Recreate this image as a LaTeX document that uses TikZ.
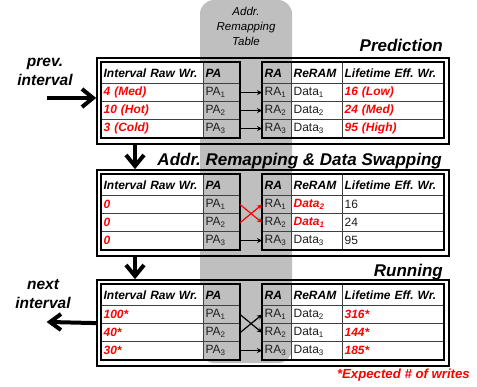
\documentclass[tikz,border=0pt]{standalone}
\usepackage{fontspec}
\setmainfont{Liberation Sans}
\usetikzlibrary{arrows.meta,calc}
\frenchspacing

\definecolor{colgray}{RGB}{191,191,191}
\definecolor{tabline}{RGB}{64,64,64}
\definecolor{hotred}{RGB}{255,0,0}
\definecolor{ink}{RGB}{30,30,30}

\newcommand\cellfont{\fontsize{12}{13}\selectfont}
\newcommand\bi{\bfseries\itshape}

\tikzset{
  cell/.style={draw=tabline, line width=1.2pt, anchor=north west, inner xsep=2pt,
    inner ysep=0pt, align=left, font=\cellfont, text=ink},
  hot/.style={text=hotred, font=\cellfont\bi},
  head/.style={font=\cellfont\bi, text=black},
  panelbox/.style={draw=black, line width=2.2pt, anchor=north west, inner sep=0pt,
    minimum width=352pt, minimum height=86pt},
  tableframe/.style={draw=black, line width=1.5pt},
  shaft/.style={line width=4pt},
  chevron/.style={line width=4pt, line join=miter},
  maparrow/.style={line width=1.2pt, -{Stealth[length=5pt,width=5pt]}},
  title/.style={font=\fontsize{17}{17}\selectfont\bi, inner sep=0pt, anchor=base east},
  sidelabel/.style={font=\fontsize{15.5}{15.5}\selectfont\bi, inner sep=0pt, anchor=base},
}

% header row of one panel: #1 prefix, #2 top y
\newcommand\panelhead[2]{%
  \node[cell, head, fill=white, text width=98pt, minimum height=21pt] (#1int0) at (101,#2) {Interval Raw Wr.};
  \node[cell, head, text width=32pt, minimum height=21pt] (#1pa0) at (203,#2) {PA};
  \node[cell, head, text width=25pt, minimum height=21pt] (#1ra0) at (262,#2) {RA};
  \node[cell, head, fill=white, text width=47pt, minimum height=21pt] (#1re0) at (291,#2) {ReRAM};
  \node[cell, head, fill=white, text width=97pt, minimum height=21pt] (#1life0) at (342,#2) {Lifetime Eff. Wr.};
}

% data row: #1 prefix, #2 index, #3 top y, #4/#5 interval style/text,
% #6/#7 ReRAM style/text, #8/#9 lifetime style/text
\newcommand\panelrow[9]{%
  \node[cell, fill=white, text width=98pt, minimum height=18pt, #4] (#1int#2) at (101,#3) {#5};
  \node[cell, text width=32pt, minimum height=18pt] (#1pa#2) at (203,#3) {PA\textsubscript{#2}};
  \node[cell, text width=25pt, minimum height=18pt] (#1ra#2) at (262,#3) {RA\textsubscript{#2}};
  \node[cell, fill=white, text width=47pt, minimum height=18pt, #6] (#1re#2) at (291,#3) {#7};
  \node[cell, fill=white, text width=97pt, minimum height=18pt, #8] (#1life#2) at (342,#3) {#9};
}

% outline of both tables of a panel
\newcommand\panelframes[1]{%
  \draw[tableframe] (#1int0.north west) rectangle (#1pa3.south east);
  \draw[tableframe] (#1ra0.north west) rectangle (#1life3.south east);
}

\begin{document}
\begin{tikzpicture}[x=1pt, y=-1pt]
\useasboundingbox (0,0) rectangle (477,386);

% remapping table column
\fill[colgray, rounded corners=14pt] (200,0) rectangle (292,363);
\node[font=\fontsize{11.5}{15}\selectfont\itshape, align=center, anchor=north, inner sep=0pt]
  (tablelbl) at (246,7) {Addr.\\Remapping\\Table};

% ---------------- Prediction ----------------
\node[title] (t1) at (443,51) {Prediction};
\node[panelbox] (s1box) at (96,57) {};
\panelhead{s1}{62}
\panelrow{s1}{1}{83}{hot}{4 (Med)}{}{Data\textsubscript{1}}{hot}{16 (Low)}
\panelrow{s1}{2}{101}{hot}{10 (Hot)}{}{Data\textsubscript{2}}{hot}{24 (Med)}
\panelrow{s1}{3}{119}{hot}{3 (Cold)}{}{Data\textsubscript{3}}{hot}{95 (High)}
\panelframes{s1}
\draw[maparrow] (s1pa1.east) -- (s1ra1.west);
\draw[maparrow] (s1pa2.east) -- (s1ra2.west);
\draw[maparrow] (s1pa3.east) -- (s1ra3.west);

% ---------------- Remapping & swapping ----------------
\node[title] (t2) at (442,165) {Addr. Remapping \& Data Swapping};
\node[panelbox] (s2box) at (96,169) {};
\panelhead{s2}{174}
\panelrow{s2}{1}{195}{hot}{0}{hot}{Data\textsubscript{2}}{}{16}
\panelrow{s2}{2}{213}{hot}{0}{hot}{Data\textsubscript{1}}{}{24}
\panelrow{s2}{3}{231}{hot}{0}{}{Data\textsubscript{3}}{}{95}
\panelframes{s2}
\draw[maparrow, draw=hotred] (s2pa1.east) -- (s2ra2.west);
\draw[maparrow, draw=hotred] (s2pa2.east) -- (s2ra1.west);
\draw[maparrow] (s2pa3.east) -- (s2ra3.west);

% ---------------- Running ----------------
\node[title] (t3) at (443,276) {Running};
\node[panelbox] (s3box) at (96,279) {};
\panelhead{s3}{284}
\panelrow{s3}{1}{305}{hot}{100*}{}{Data\textsubscript{2}}{hot}{316*}
\panelrow{s3}{2}{323}{hot}{40*}{}{Data\textsubscript{1}}{hot}{144*}
\panelrow{s3}{3}{341}{hot}{30*}{}{Data\textsubscript{3}}{hot}{185*}
\panelframes{s3}
\draw[maparrow] (s3pa1.east) -- (s3ra2.west);
\draw[maparrow] (s3pa2.east) -- (s3ra1.west);
\draw[maparrow] (s3pa3.east) -- (s3ra3.west);

% flow between panels: thick shafts with open chevron heads
\coordinate (tipa) at ([xshift=39pt, yshift=3pt]s2box.north west);
\draw[shaft] ([xshift=39pt]s1box.south west) -- (tipa);
\draw[chevron] ($(tipa)+(-9,-11)$) -- (tipa) -- ($(tipa)+(9,-11)$);

\coordinate (tipb) at ([xshift=39pt, yshift=3pt]s3box.north west);
\draw[shaft] ([xshift=39pt]s2box.south west) -- (tipb);
\draw[chevron] ($(tipb)+(-9,-11)$) -- (tipb) -- ($(tipb)+(9,-11)$);

% interval arrows
\node[sidelabel] (prev1) at (45,66) {prev.};
\node[sidelabel] (prev2) at (45,85) {interval};
\coordinate (prevstart) at (47,98);
\coordinate (tipc) at ([xshift=-3pt]prevstart -| s1box.west);
\draw[shaft] (prevstart) -- (tipc);
\draw[chevron] ($(tipc)+(-11,-9)$) -- (tipc) -- ($(tipc)+(-11,9)$);

\node[sidelabel] (next1) at (43,289) {next};
\node[sidelabel] (next2) at (43,308) {interval};
\coordinate (tipd) at (50,322);
\draw[shaft] (s3box.west) -- (tipd);
\draw[chevron] ($(tipd)+(11,-8)$) -- (tipd) -- ($(tipd)+(11,8)$);

\node[font=\fontsize{13.2}{13.2}\selectfont\bi, text=hotred, anchor=base east, inner sep=0pt]
  (note) at (470,378) {*Expected \# of writes};
\end{tikzpicture}
\end{document}
